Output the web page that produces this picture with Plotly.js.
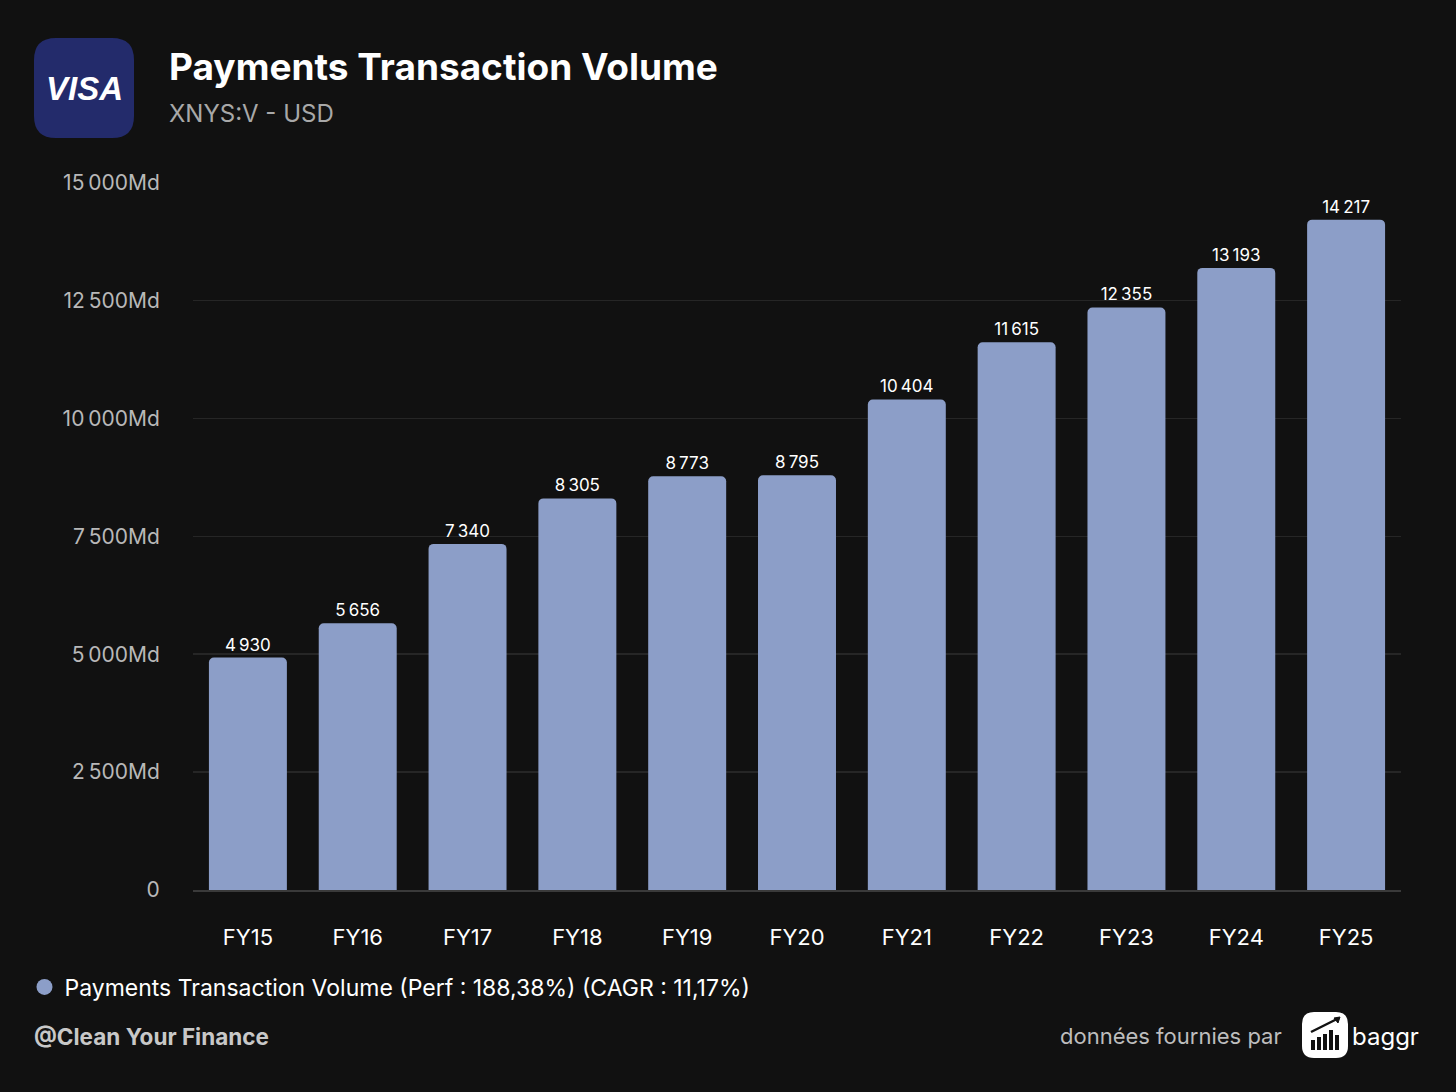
<!DOCTYPE html>
<html>
<head>
<meta charset="utf-8">
<script src="https://cdn.plot.ly/plotly-3.0.1.min.js"></script>
<style>
html,body{margin:0;padding:0;background:#111111;}
#chart{width:1456px;height:1092px;}
</style>
</head>
<body>
<div id="chart"></div>
<script>
const categories = ["FY15","FY16","FY17","FY18","FY19","FY20","FY21","FY22","FY23","FY24","FY25"];
const volumes = [4930, 5656, 7340, 8305, 8773, 8795, 10404, 11615, 12355, 13193, 14217];
const yTicks = [0, 2500, 5000, 7500, 10000, 12500, 15000];
const seriesName = "Payments Transaction Volume (Perf : 188,38%) (CAGR : 11,17%)";

const fmt = v => String(v).replace(/\B(?=(\d{3})+(?!\d))/g, "\u2009");
const labels = volumes.map(fmt);
const yTickText = yTicks.map(v => v === 0 ? "0" : fmt(v) + "Md");

const barColor = "#8c9ec8";

const traces = [
  {
    type: "bar",
    x: categories,
    y: volumes,
    text: labels,
    textposition: "outside",
    texttemplate: "%{text}",
    cliponaxis: false,
    textfont: {family: "Inter, sans-serif", size: 17, color: "#ffffff"},
    marker: {color: barColor, line: {width: 0}, cornerradius: 5},
    showlegend: false,
    hoverinfo: "x+y"
  },
  {
    type: "scatter",
    mode: "markers",
    x: [null],
    y: [null],
    name: seriesName,
    marker: {color: barColor, size: 20, symbol: "circle"},
    showlegend: true
  }
];

const layout = {
  width: 1456,
  height: 1092,
  paper_bgcolor: "#111111",
  plot_bgcolor: "#111111",
  margin: {l: 193, r: 55, t: 182, b: 202, pad: 0},
  font: {family: "Inter, sans-serif", color: "#ffffff"},
  bargap: 0.29,
  showlegend: true,
  legend: {
    orientation: "h",
    x: -0.1395, xanchor: "left",
    y: -0.137, yanchor: "middle",
    font: {family: "Inter, sans-serif", size: 23, color: "#ffffff"},
    bgcolor: "rgba(0,0,0,0)",
    itemwidth: 30
  },
  xaxis: {
    type: "category",
    tickfont: {family: "Inter, sans-serif", size: 22, color: "#ffffff"},
    showgrid: false,
    showline: true,
    linecolor: "#3a3a3a",
    linewidth: 2,
    ticks: "outside",
    ticklen: 27,
    tickcolor: "rgba(0,0,0,0)",
    zeroline: false,
    fixedrange: true
  },
  yaxis: {
    range: [0, 15015],
    tickvals: yTicks,
    ticktext: yTickText,
    tickfont: {family: "Inter, sans-serif", size: 21, color: "#b8b8b8"},
    showgrid: true,
    gridcolor: "#262626",
    gridwidth: 1.5,
    zeroline: false,
    showline: false,
    ticks: "outside",
    ticklen: 28,
    tickcolor: "rgba(0,0,0,0)",
    fixedrange: true
  },
  shapes: [
    {
      type: "path", xref: "paper", yref: "paper",
      xsizemode: "pixel", ysizemode: "pixel",
      xanchor: 0, yanchor: 1,
      path: "M-137,44 L-81,44 Q-59,44 -59,66 L-59,122 Q-59,144 -81,144 L-137,144 Q-159,144 -159,122 L-159,66 Q-159,44 -137,44 Z",
      fillcolor: "#232b6b",
      line: {width: 0},
      layer: "above"
    },
    {
      type: "path", xref: "paper", yref: "paper",
      xsizemode: "pixel", ysizemode: "pixel",
      xanchor: 1, yanchor: 0,
      path: "M-87,-122 L-65,-122 Q-53,-122 -53,-134 L-53,-156 Q-53,-168 -65,-168 L-87,-168 Q-99,-168 -99,-156 L-99,-134 Q-99,-122 -87,-122 Z",
      fillcolor: "#ffffff",
      line: {width: 0},
      layer: "above"
    }
  ],
  annotations: [
    {
      text: "<b><i>VISA</i></b>", xref: "paper", yref: "paper",
      x: 0, y: 1, xshift: -109, yshift: 94,
      xanchor: "center", yanchor: "middle", showarrow: false,
      font: {family: "Liberation Sans, Arial, sans-serif", size: 33, color: "#ffffff"}
    },
    {
      text: "<b>Payments Transaction Volume</b>", xref: "paper", yref: "paper",
      x: 0, y: 1, xshift: -26, yshift: 116,
      xanchor: "left", yanchor: "middle", showarrow: false,
      font: {family: "Inter, sans-serif", size: 37, color: "#ffffff"}
    },
    {
      text: "XNYS:V - USD", xref: "paper", yref: "paper",
      x: 0, y: 1, xshift: -26, yshift: 69,
      xanchor: "left", yanchor: "middle", showarrow: false,
      font: {family: "Inter, sans-serif", size: 24, color: "#a8a8a8"}
    },
    {
      text: "<b>@Clean Your Finance</b>", xref: "paper", yref: "paper",
      x: 0, y: 0, xshift: -161, yshift: -146,
      xanchor: "left", yanchor: "middle", showarrow: false,
      font: {family: "Inter, sans-serif", size: 22.5, color: "#c8c8c8"}
    },
    {
      text: "données fournies par", xref: "paper", yref: "paper",
      x: 1, y: 0, xshift: -117, yshift: -146,
      xanchor: "right", yanchor: "middle", showarrow: false,
      font: {family: "Inter, sans-serif", size: 22, color: "#bdbdbd"}
    },
    {
      text: "baggr", xref: "paper", yref: "paper",
      x: 1, y: 0, xshift: 20, yshift: -146,
      xanchor: "right", yanchor: "middle", showarrow: false,
      font: {family: "Inter, sans-serif", size: 24, color: "#ffffff"}
    }
  ]
};

// small chart icon inside the baggr square (bars + arrow), drawn as shapes in pixels
const iconBars = [[-90,-150,-86],[-84,-147,-80],[-78,-144,-74],[-72,-140,-68],[-66,-145,-62]];
iconBars.forEach(b => {
  layout.shapes.push({
    type: "path", xref: "paper", yref: "paper",
    xsizemode: "pixel", ysizemode: "pixel", xanchor: 1, yanchor: 0,
    path: `M${b[0]},-160 L${b[2]},-160 L${b[2]},${b[1]} L${b[0]},${b[1]} Z`,
    fillcolor: "#111111", line: {width: 0}, layer: "above"
  });
});
layout.shapes.push({
  type: "path", xref: "paper", yref: "paper",
  xsizemode: "pixel", ysizemode: "pixel", xanchor: 1, yanchor: 0,
  path: "M-90,-142 L-80,-137 L-72,-133 L-62,-128",
  line: {color: "#111111", width: 2.5}, layer: "above"
});
layout.shapes.push({
  type: "path", xref: "paper", yref: "paper",
  xsizemode: "pixel", ysizemode: "pixel", xanchor: 1, yanchor: 0,
  path: "M-67,-128 L-61,-127 L-63,-133 Z",
  fillcolor: "#111111", line: {color: "#111111", width: 1}, layer: "above"
});

Plotly.newPlot("chart", traces, layout, {displayModeBar: false, staticPlot: true});
</script>
</body>
</html>
